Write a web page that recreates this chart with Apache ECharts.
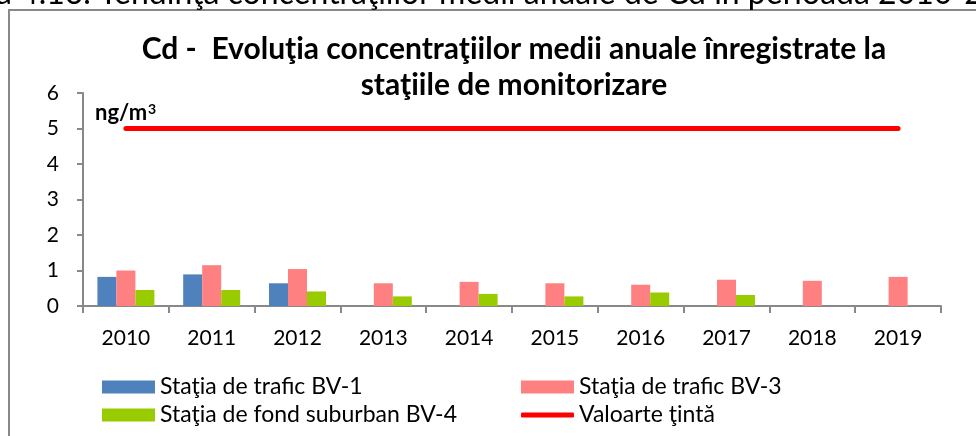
<!DOCTYPE html>
<html>
<head>
<meta charset="utf-8">
<script src="https://cdn.jsdelivr.net/npm/echarts@6/dist/echarts.min.js"></script>
<style>
    html, body { margin: 0; padding: 0; background: #fff; }
    #chart { width: 976px; height: 436px; }
</style>
</head>
<body>
<div id="chart"></div>
<script>
// ani
const years = ['2010', '2011', '2012', '2013', '2014', '2015', '2016', '2017', '2018', '2019']
const bv1 = [0.82, 0.89, 0.64, null, null, null, null, null, null, null]
const bv3 = [1.0, 1.15, 1.04, 0.64, 0.68, 0.64, 0.6, 0.74, 0.71, 0.82]
const bv4 = [0.45, 0.45, 0.41, 0.27, 0.34, 0.27, 0.38, 0.31, null, null]
const tinta = [5, 5, 5, 5, 5, 5, 5, 5, 5, 5]
const names = ['Staţia de trafic BV-1', 'Staţia de trafic BV-3', 'Staţia de fond suburban BV-4', 'Valoarte ţintă']

const font = 'Lato'
const axisColor = '#898989'

let myChart = echarts.init(document.getElementById('chart'))

const barSerie = (name, data, color) => {
    return {
        name: name,
        type: 'bar',
        barWidth: 19,
        barGap: '0%',
        itemStyle: { color: color },
        data: data,
    }
}

// cate o legenda pentru fiecare element (doua coloane)
const legendItem = (name, left, top, icon, h) => {
    return {
        left: left,
        top: top,
        itemWidth: 53,
        itemHeight: h,
        icon: icon,
        textStyle: { fontFamily: font, fontSize: 23, color: '#000', lineHeight: 26 },
        data: [name],
    }
}

let option = {
    animation: false,
    textStyle: { fontFamily: font },
    title: {
        text: 'Cd -  Evoluţia concentraţiilor medii anuale înregistrate la\nstaţiile de monitorizare',
        left: 509,
        top: 26,
        textAlign: 'center',
        textStyle: {
            fontFamily: font,
            fontSize: 30,
            fontWeight: 'bold',
            color: '#000',
            lineHeight: 36,
        },
    },
    legend: [
        legendItem(names[0], 97, 369, 'rect', 13),
        legendItem(names[2], 97, 397, 'rect', 13),
        legendItem(names[1], 516, 369, 'rect', 13),
        legendItem(names[3], 516, 397, 'roundRect', 5),
    ],
    graphic: [
        {
            type: 'rect',
            shape: { x: 9, y: 10, width: 1000, height: 500 },
            style: { fill: 'none', stroke: axisColor, lineWidth: 2 },
        },
        {
            type: 'text',
            left: -4,
            top: -22,
            style: {
                text: 'a 4.16. Tendinţa concentraţiilor medii anuale de Cd în perioada 2010-2019',
                fontFamily: font,
                fontSize: 32,
                fill: '#000',
            },
        },
        {
            type: 'text',
            left: 95,
            top: 102,
            style: {
                text: '{a|ng/m}{b|3}',
                rich: {
                    a: { fontFamily: font, fontSize: 22, fontWeight: 'bold', fill: '#000', verticalAlign: 'bottom' },
                    b: { fontFamily: font, fontSize: 14, fontWeight: 'bold', fill: '#000', verticalAlign: 'top', padding: [0, 0, 8, 1] },
                },
            },
        },
    ],
    grid: {
        left: 83,
        top: 93,
        width: 858,
        height: 213,
    },
    xAxis: {
        type: 'category',
        data: years,
        axisLine: { lineStyle: { color: axisColor, width: 2 } },
        axisTick: { show: true, length: 7, lineStyle: { color: axisColor, width: 2 } },
        axisLabel: { fontFamily: font, fontSize: 21, color: '#000', margin: 22 },
    },
    yAxis: {
        type: 'value',
        min: 0,
        max: 6,
        interval: 1,
        axisLine: { show: true, lineStyle: { color: axisColor, width: 2 } },
        axisTick: { show: true, length: 6, lineStyle: { color: axisColor, width: 2 } },
        splitLine: { show: false },
        axisLabel: { fontFamily: font, fontSize: 21, color: '#000', margin: 24 },
    },
    series: [
        barSerie(names[0], bv1, '#4F81BD'),
        barSerie(names[1], bv3, '#FF8080'),
        barSerie(names[2], bv4, '#99CC00'),
        {
            name: names[3],
            type: 'line',
            symbol: 'none',
            lineStyle: { color: '#FF0000', width: 5, cap: 'round' },
            itemStyle: { color: '#FF0000' },
            data: tinta,
        },
    ],
}

myChart.setOption(option)
</script>
</body>
</html>
